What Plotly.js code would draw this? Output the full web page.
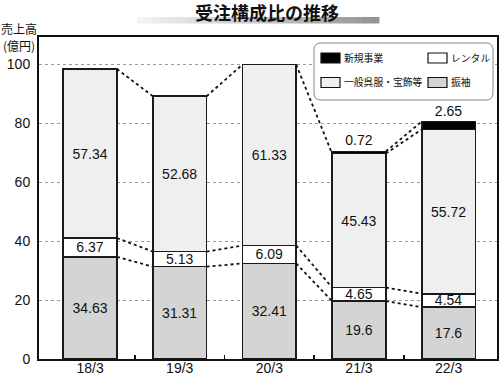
<!DOCTYPE html>
<html><head><meta charset="utf-8">
<script src="https://cdn.plot.ly/plotly-3.0.1.min.js"></script>
<style>html,body{margin:0;padding:0;background:#fff}#c{width:500px;height:375px}</style>
</head><body><div id="c"></div>
<script>
const categories = ['18/3','19/3','20/3','21/3','22/3'];
const furisode = [34.63, 31.31, 32.41, 19.6, 17.6];
const rental = [6.37, 5.13, 6.09, 4.65, 4.54];
const ippan = [57.34, 52.68, 61.33, 45.43, 55.72];
const shinki = [0, 0, 0, 0.72, 2.65];
const seriesNames = ['振袖', 'レンタル', '一般呉服・宝飾等', '新規事業'];
const seriesColors = ['#d4d4d4', '#ffffff', '#efefef', '#000000'];
const yTicks = [0, 20, 40, 60, 80, 100];

const FONT = '"Liberation Sans", "Noto Sans CJK JP", sans-serif';
const JFONT = '"Noto Sans CJK JP", sans-serif';
const xs = categories.map((_, i) => i);
const series = [furisode, rental, ippan, shinki];
const BW = 0.6;

// pixel -> paper helpers (plot area: x 39..497, y 37..359)
const PL = 39, PR = 497, PT = 37, PB = 359;
const px = v => (v - PL) / (PR - PL);
const py = v => (PB - v) / (PB - PT);

const traces = series.map((vals, k) => {
  const isTop = k === 3;
  return {
    type: 'bar', x: xs, y: vals, width: BW, name: seriesNames[k],
    marker: {color: seriesColors[k], line: {color: '#1a1a1a', width: 1.6}},
    text: vals.map(v => isTop ? (v > 0 ? String(v) : '') : String(v)),
    textposition: isTop ? 'outside' : 'inside',
    insidetextanchor: 'middle',
    constraintext: 'none',
    textfont: {family: FONT, size: 14, color: '#111'},
    cliponaxis: false,
    hoverinfo: 'skip', showlegend: false
  };
});

// cumulative levels and dotted connectors
const cum = [];
let run = xs.map(() => 0);
series.forEach(vals => { run = run.map((r, i) => r + vals[i]); cum.push(run.slice()); });
const lx = [], ly = [];
series.forEach((vals, k) => {
  for (let i = 0; i < xs.length - 1; i++) {
    if (vals[i] > 0 && vals[i + 1] > 0) {
      lx.push(xs[i] + BW / 2, xs[i + 1] - BW / 2, null);
      ly.push(cum[k][i], cum[k][i + 1], null);
    }
  }
});
traces.push({type: 'scatter', mode: 'lines', x: lx, y: ly, connectgaps: false,
  line: {color: '#111', width: 1.8, dash: 'dot'}, hoverinfo: 'skip', showlegend: false});
// boundary ticks on an overlay axis
traces.push({type: 'scatter', mode: 'markers', x: [0], y: [0], xaxis: 'x2',
  marker: {opacity: 0}, hoverinfo: 'skip', showlegend: false});

const shapes = [];
// title underline gradient
const gx0 = 137, gx1 = 379, steps = 30;
for (let s = 0; s < steps; s++) {
  const t = s / (steps - 1);
  const c = Math.round(243 - t * 95);
  shapes.push({type: 'rect', xref: 'paper', yref: 'paper', layer: 'below',
    x0: px(gx0 + (gx1 - gx0) * s / steps), x1: px(gx0 + (gx1 - gx0) * (s + 1) / steps + 0.5),
    y0: py(23.5), y1: py(17), line: {width: 0}, fillcolor: `rgb(${c},${c},${c})`});
}
// legend box (rounded)
function rr(x0, y0, x1, y1, r) {
  const P = (a, b) => px(a) + ',' + py(b);
  return 'M' + P(x0 + r, y0) + ' L' + P(x1 - r, y0) + ' Q' + P(x1, y0) + ' ' + P(x1, y0 + r) +
    ' L' + P(x1, y1 - r) + ' Q' + P(x1, y1) + ' ' + P(x1 - r, y1) +
    ' L' + P(x0 + r, y1) + ' Q' + P(x0, y1) + ' ' + P(x0, y1 - r) +
    ' L' + P(x0, y0 + r) + ' Q' + P(x0, y0) + ' ' + P(x0 + r, y0) + ' Z';
}
shapes.push({type: 'path', xref: 'paper', yref: 'paper', path: rr(314, 43, 493, 100, 7),
  line: {color: '#8a8a8a', width: 1}, fillcolor: '#ffffff'});

const legendOrder = [3, 1, 2, 0];
const legPos = [[321, 58], [428, 58], [321, 82.5], [428, 82.5]];
const annotations = [];
legendOrder.forEach((k, j) => {
  const [lxp, lyp] = legPos[j];
  shapes.push({type: 'rect', xref: 'paper', yref: 'paper',
    x0: px(lxp), x1: px(lxp + 19), y0: py(lyp - 5), y1: py(lyp + 5),
    fillcolor: seriesColors[k], line: {color: '#111', width: 1.2}});
  annotations.push({xref: 'paper', yref: 'paper', x: px(lxp + 21), y: py(lyp), xanchor: 'left', yanchor: 'middle',
    text: seriesNames[k], showarrow: false, font: {family: JFONT, size: 9.8, color: '#111'}});
});
annotations.push({xref: 'paper', yref: 'paper', x: px(18.5), y: py(29), xanchor: 'center', yanchor: 'middle',
  text: '売上高', showarrow: false, font: {family: JFONT, size: 12, color: '#111'}});
annotations.push({xref: 'paper', yref: 'paper', x: px(18.5), y: py(45), xanchor: 'center', yanchor: 'middle',
  text: '(億円)', showarrow: false, font: {family: JFONT, size: 12, color: '#111'}});

const layout = {
  width: 500, height: 375,
  margin: {l: PL, r: 500 - PR, t: PT, b: 375 - PB},
  paper_bgcolor: '#fff', plot_bgcolor: '#fff',
  barmode: 'stack', bargap: 0,
  title: {text: '<b>受注構成比の推移</b>', x: 267 / 500, xanchor: 'center', yref: 'container', y: 1 - 14 / 375, yanchor: 'middle',
    font: {family: JFONT, size: 18, color: '#111'}},
  xaxis: {range: [-0.57, 4.54], tickvals: xs, ticktext: categories, showgrid: false, zeroline: false,
    showline: true, linecolor: '#111', linewidth: 2, mirror: true, ticks: '', ticklabelstandoff: -5,
    tickfont: {family: FONT, size: 14, color: '#111'}, fixedrange: true},
  xaxis2: {overlaying: 'x', range: [-0.57, 4.54], tickvals: [0.5, 1.5, 2.5, 3.5], ticks: 'inside', ticklen: 4,
    tickwidth: 1.5, tickcolor: '#111', showticklabels: false, showgrid: false, zeroline: false, showline: false},
  yaxis: {range: [0, 109.2], tickvals: yTicks, showgrid: true, gridcolor: '#999', griddash: 'dot', gridwidth: 1,
    zeroline: false, showline: true, linecolor: '#111', linewidth: 2, mirror: true, ticks: '',
    ticklabelstandoff: 4, tickfont: {family: FONT, size: 14, color: '#111'}, fixedrange: true},
  shapes: shapes, annotations: annotations, showlegend: false
};
Plotly.newPlot('c', traces, layout, {staticPlot: true, displayModeBar: false});
</script></body></html>
